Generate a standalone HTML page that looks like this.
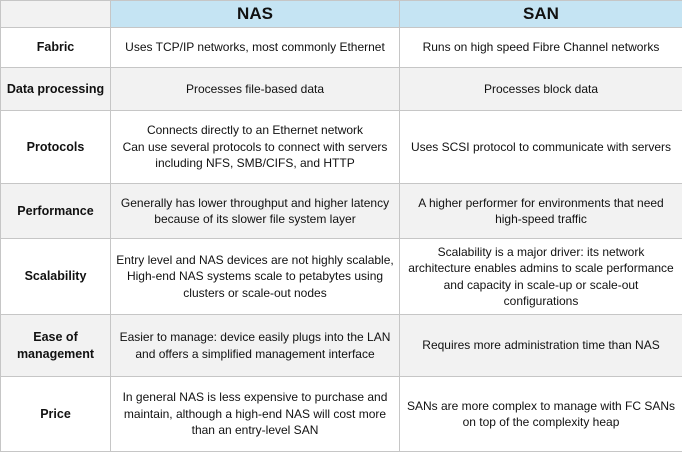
<!DOCTYPE html>
<html><head><style>
body{margin:0;width:682px;height:451px;background:#fff;font-family:"Liberation Sans",sans-serif;color:#111;overflow:hidden}
table{border-collapse:collapse;table-layout:fixed;width:682px;position:absolute;left:0;top:0}
td{border:1px solid #c6c6c6;text-align:center;vertical-align:middle;font-size:12px;line-height:16.5px;padding:0;white-space:nowrap;overflow:hidden}
td.h{font-weight:bold;font-size:12.5px}
tr.g td{background:#f2f2f2}
tr.hd td{background:#c5e4f3;font-weight:bold;font-size:17px}
tr.hd td:first-child{background:#f2f2f2}
</style></head><body>
<table>
<colgroup><col style="width:110px"><col style="width:289px"><col style="width:283px"></colgroup>
<tr class="hd" style="height:27px"><td></td><td>NAS</td><td>SAN</td></tr>
<tr style="height:40px"><td class="h">Fabric</td><td>Uses TCP/IP networks, most commonly Ethernet</td><td>Runs on high speed Fibre Channel networks</td></tr>
<tr class="g" style="height:43px"><td class="h">Data processing</td><td>Processes file-based data</td><td>Processes block data</td></tr>
<tr style="height:73px"><td class="h">Protocols</td><td>Connects directly to an Ethernet network<br>Can use several protocols to connect with servers<br>including NFS, SMB/CIFS, and HTTP</td><td>Uses SCSI protocol to communicate with servers</td></tr>
<tr class="g" style="height:55px"><td class="h">Performance</td><td>Generally has lower throughput and higher latency<br>because of its slower file system layer</td><td>A higher performer for environments that need<br>high-speed traffic</td></tr>
<tr style="height:76px"><td class="h">Scalability</td><td>Entry level and NAS devices are not highly scalable,<br>High-end NAS systems scale to petabytes using<br>clusters or scale-out nodes</td><td>Scalability is a major driver: its network<br>architecture enables admins to scale performance<br>and capacity in scale-up or scale-out<br>configurations</td></tr>
<tr class="g" style="height:62px"><td class="h">Ease of<br>management</td><td>Easier to manage: device easily plugs into the LAN<br>and offers a simplified management interface</td><td>Requires more administration time than NAS</td></tr>
<tr style="height:75px"><td class="h">Price</td><td>In general NAS is less expensive to purchase and<br>maintain, although a high-end NAS will cost more<br>than an entry-level SAN</td><td>SANs are more complex to manage with FC SANs<br>on top of the complexity heap</td></tr>
</table>
</body></html>
